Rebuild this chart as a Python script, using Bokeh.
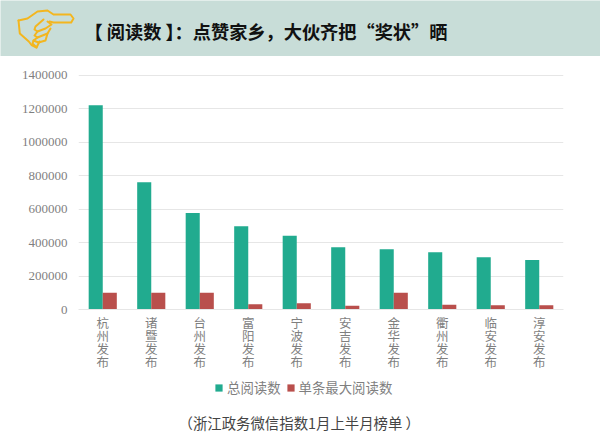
from bokeh.plotting import figure
from bokeh.embed import file_html
from bokeh.resources import INLINE
from bokeh.core.properties import value
from bokeh.models import ColumnDataSource, FactorRange, Range1d, Legend, LegendItem, FixedTicker
from bokeh.transform import dodge

cities = ["杭州发布", "诸暨发布", "台州发布", "富阳发布", "宁波发布",
          "安吉发布", "金华发布", "衢州发布", "临安发布", "淳安发布"]
total_reads = [1220000, 760000, 577000, 498000, 440000, 372000, 360000, 342000, 312000, 295000]
max_reads = [100000, 100000, 100000, 32000, 37000, 22000, 100000, 28000, 25000, 25000]
y_ticks = [0, 200000, 400000, 600000, 800000, 1000000, 1200000, 1400000]
series_names = ["总阅读数", "单条最大阅读数"]
title_text = "【 阅读数 】：点赞家乡，大伙齐把“奖状”晒"
note_text = "（浙江政务微信指数1月上半月榜单 ）"

W = 600
HEADER_H, CHART_H, FOOTER_H = 56, 320, 62
ORANGE = "#f3b61f"
GREEN, RED = "#21ab8f", "#b94f4c"

vertical = ["\n".join(c) for c in cities]
src = ColumnDataSource(dict(city=vertical, total=total_reads, top=max_reads))


def place(f, top):
    f.styles = {"position": "absolute", "left": "0px", "top": f"{top}px"}
    return f


def panel(h, bg):
    f = figure(width=W, height=h, output_backend="svg", toolbar_location=None,
               x_range=Range1d(0, W), y_range=Range1d(h, 0),
               min_border=0, outline_line_color=None,
               background_fill_color=bg, border_fill_color=bg)
    f.axis.visible = False
    f.grid.visible = False
    return f


# header
head = place(panel(HEADER_H, "#c8ddd8"), 0)
hand_strokes = [
    [(18, 20), (27, 18), (37, 11), (47, 10), (53, 14), (70, 14), (73, 18), (70.7, 22), (53, 22), (49, 21)],
    [(18, 20), (19.3, 33), (28.3, 41), (31, 44.5), (36, 47)],
    [(43, 19), (35, 26), (34, 29), (37, 31), (45, 28), (51, 24), (47, 21)],
    [(37, 31), (34, 35), (37, 37), (47, 33), (50, 28)],
    [(37, 37), (33, 40), (38, 42), (45, 40), (47, 33)],
    [(33, 40), (32, 43), (36, 47), (39, 41)],
]
for stroke in hand_strokes:
    head.line([a for a, b in stroke], [b for a, b in stroke], line_color=ORANGE, line_width=2,
              line_join="round", line_cap="round")
head.text(x=[84], y=[30], text=[title_text], text_font=value("Noto Sans CJK SC"),
          text_font_style="bold", text_font_size="18.2px", text_color="#111111",
          text_baseline="middle", text_align="left")

# chart
p = figure(width=W, height=CHART_H, output_backend="svg", toolbar_location=None,
           x_range=FactorRange(factors=vertical, range_padding=0),
           y_range=Range1d(0, 1404000),
           min_border_left=78, min_border_right=37, min_border_top=18, min_border_bottom=67,
           outline_line_color=None, background_fill_color="white", border_fill_color="white")
place(p, 56)
p.xgrid.visible = False
p.ygrid.grid_line_color = "#e6e6e6"
p.ygrid.grid_line_width = 1

p.yaxis.ticker = FixedTicker(ticks=y_ticks)
p.yaxis.formatter.use_scientific = False
p.yaxis.axis_line_color = None
p.yaxis.major_tick_line_color = None
p.yaxis.minor_tick_line_color = None
p.yaxis.major_label_text_font = "Liberation Serif"
p.yaxis.major_label_text_font_size = "13px"
p.yaxis.major_label_text_color = "#7f7f7f"
p.yaxis.major_label_standoff = 5

p.xaxis.axis_line_color = "#e6e6e6"
p.xaxis.major_tick_line_color = None
p.xaxis.minor_tick_line_color = None
p.xaxis.major_label_text_font = "Noto Sans CJK SC"
p.xaxis.major_label_text_font_size = "12.5px"
p.xaxis.major_label_text_color = "#7f7f7f"
p.xaxis.major_label_text_line_height = 0.7
p.xaxis.major_label_standoff = -3

p.vbar(x=dodge("city", -0.145, range=p.x_range), top="total", width=0.29, source=src,
       fill_color=GREEN, line_color=None)
p.vbar(x=dodge("city", 0.145, range=p.x_range), top="top", width=0.29, source=src,
       fill_color=RED, line_color=None)

# footer: legend and note (the key renderers sit outside the visible range)
foot = place(panel(FOOTER_H, "white"), 376)
k1 = foot.vbar(x=[-50], top=[-50], width=1, fill_color=GREEN, line_color=None)
k2 = foot.vbar(x=[-50], top=[-50], width=1, fill_color=RED, line_color=None)
legend = Legend(items=[LegendItem(label=series_names[0], renderers=[k1]),
                       LegendItem(label=series_names[1], renderers=[k2])],
                orientation="horizontal", location=(214, 41),
                glyph_width=9, glyph_height=9, label_standoff=4, spacing=5,
                padding=0, margin=0, border_line_color=None, background_fill_alpha=0,
                label_text_font="Noto Sans CJK SC", label_text_font_size="13.4px",
                label_text_color="#7f7f7f")
foot.add_layout(legend)
foot.text(x=[178], y=[46], text=[note_text], text_font=value("Noto Sans CJK SC"),
          text_font_size="14.4px", text_color="#444444", text_baseline="middle", text_align="left")

open("out.html", "w").write(file_html([head, p, foot], INLINE))
